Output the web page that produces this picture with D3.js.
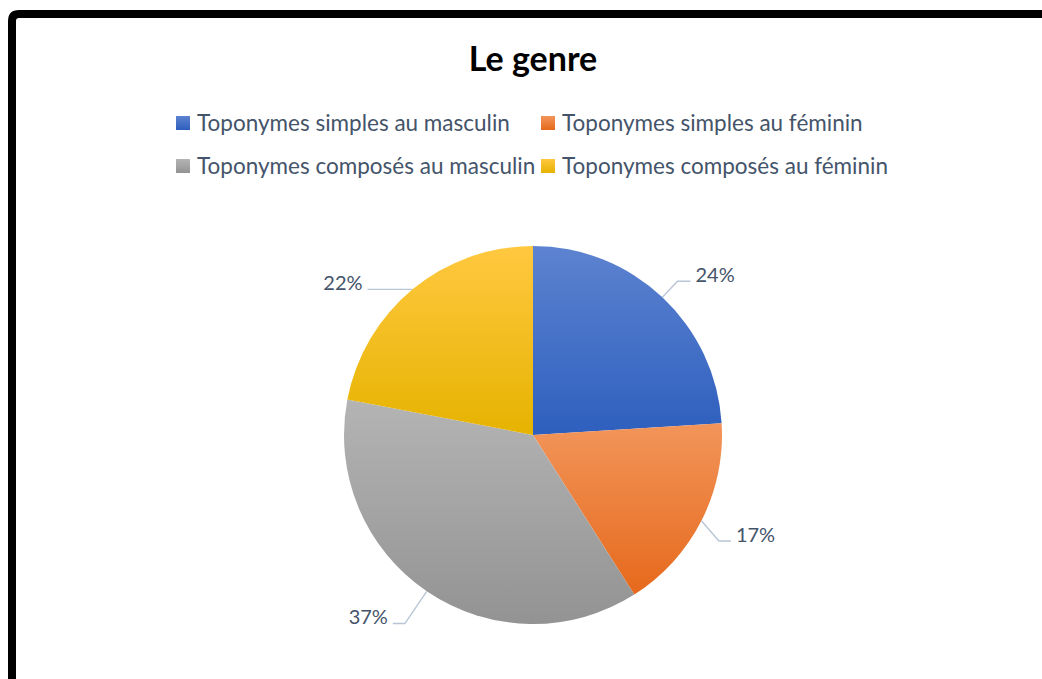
<!DOCTYPE html>
<html>
<head>
<meta charset="utf-8">
<script src="https://cdn.jsdelivr.net/npm/d3@7"></script>
<style>
  html, body { margin: 0; padding: 0; background: #fff; }
  svg { display: block; font-family: Lato, "Open Sans", sans-serif; }
</style>
</head>
<body>
<svg id="chart" width="1042" height="679"></svg>
<script>
'use strict';

// data
const categories = [
  'Toponymes simples au masculin',
  'Toponymes simples au féminin',
  'Toponymes composés au masculin',
  'Toponymes composés au féminin'
]
const shares = [24, 17, 37, 22]
const title = 'Le genre'

// gradient colours (top, bottom) for each slice
const topColors = ['#5d83d0', '#f2955a', '#b4b4b4', '#ffc840']
const bottomColors = ['#2e5fbe', '#e6691c', '#939393', '#e6b300']

// label leader tweaks: elbow distance beyond the rim, angle nudge (deg), horizontal tail
const elbowOut = [22, 25, 39, 0]
const elbowTurn = [0, 2.7, 0, 0]
const tailLen = [13, 12, 12, 45]

const svg = d3.select('#chart')
const W = 1042, H = 679
const cx = 533, cy = 435, R = 189
const textColor = '#44546a'

// frame, rounded top-left corner, runs off the right and bottom edges
svg.append('path')
  .attr('d', 'M12,' + (H + 10) + ' L12,21 Q12,14 19,14 L' + (W + 10) + ',14')
  .attr('fill', 'none')
  .attr('stroke', '#000')
  .attr('stroke-width', 8)

const defs = svg.append('defs')
shares.forEach((d, i) => {
  const g = defs.append('linearGradient')
    .attr('id', 'grad' + i)
    .attr('x1', 0).attr('y1', 0).attr('x2', 0).attr('y2', 1)
  g.append('stop').attr('offset', '0%').attr('stop-color', topColors[i])
  g.append('stop').attr('offset', '100%').attr('stop-color', bottomColors[i])
})

// title
svg.append('text')
  .attr('x', cx)
  .attr('y', 71)
  .attr('text-anchor', 'middle')
  .attr('font-size', 34)
  .attr('font-weight', 'bold')
  .attr('fill', '#000')
  .text(title)

// legend, two columns
const colX = [176, 541]
const rowY = [123, 166]
const legend = svg.append('g')
categories.forEach((c, i) => {
  const x = colX[i % 2], y = rowY[Math.floor(i / 2)]
  legend.append('rect')
    .attr('x', x).attr('y', y - 7)
    .attr('width', 14).attr('height', 14)
    .attr('fill', 'url(#grad' + i + ')')
  legend.append('text')
    .attr('x', x + 21).attr('y', y)
    .attr('dy', '0.35em')
    .attr('font-size', 22.5)
    .attr('fill', textColor)
    .text(c)
})

// pie
const pie = d3.pie().sort(null).value(d => d)
const arcs = pie(shares)
const arc = d3.arc().innerRadius(0).outerRadius(R)

const g = svg.append('g').attr('transform', 'translate(' + cx + ',' + cy + ')')

g.selectAll('path.slice')
  .data(arcs)
  .enter().append('path')
  .attr('class', 'slice')
  .attr('d', arc)
  .attr('fill', (d, i) => 'url(#grad' + i + ')')

// leader lines and labels
function polar(a, r) { return [Math.sin(a) * r, -Math.cos(a) * r] }

arcs.forEach((d, i) => {
  const mid = (d.startAngle + d.endAngle) / 2
  const p0 = polar(mid, R)
  const p1 = polar(mid + elbowTurn[i] * Math.PI / 180, R + elbowOut[i])
  const side = Math.sin(mid) >= 0 ? 1 : -1
  const p2 = [p1[0] + side * tailLen[i], p1[1]]

  g.append('polyline')
    .attr('points', [p0, p1, p2].map(p => p.join(',')).join(' '))
    .attr('fill', 'none')
    .attr('stroke', '#b9c5d6')
    .attr('stroke-width', 1.4)

  g.append('text')
    .attr('x', p2[0] + side * 5)
    .attr('y', p2[1] - 6.5)
    .attr('dy', '0.35em')
    .attr('text-anchor', side > 0 ? 'start' : 'end')
    .attr('font-size', 20)
    .attr('fill', textColor)
    .text(d3.format('.0f')(d.data) + '%')
})
</script>
</body>
</html>
